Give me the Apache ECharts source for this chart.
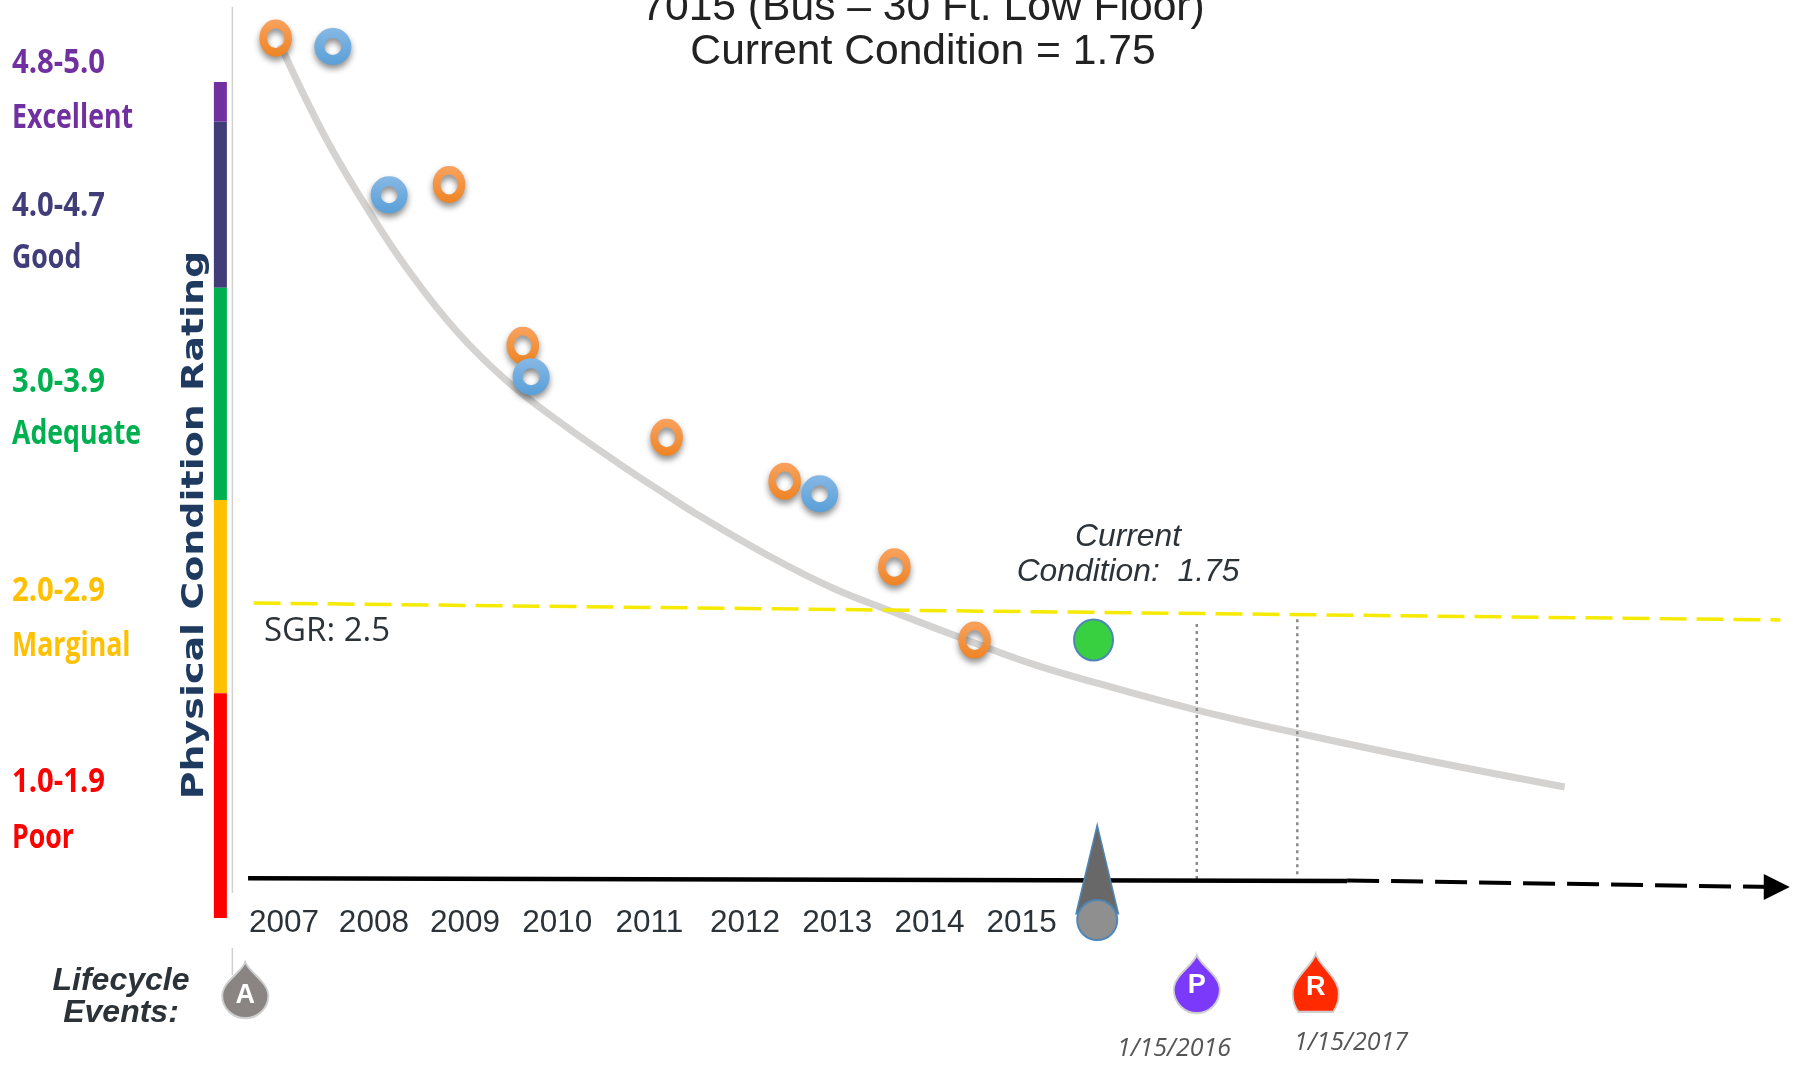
<!DOCTYPE html>
<html>
<head>
<meta charset="utf-8">
<title>7015 Current Condition</title>
<style>
    html, body { margin: 0; padding: 0; background: #fff; }
    #chart { width: 1793px; height: 1067px; overflow: hidden; }
</style>
<script src="https://cdn.jsdelivr.net/npm/echarts@6/dist/echarts.min.js"></script>
</head>
<body>
<div id="chart"></div>
<script>
// axis labels, the years sit a little unevenly on the picture
var yearTicks = [2007, 2007.975, 2008.963, 2009.963, 2010.963, 2012, 2013, 2014, 2015];

// rating bands, top to bottom
var bandNames = ["Excellent", "Good", "Adequate", "Marginal", "Poor"];
var bandRanges = ["4.8-5.0", "4.0-4.7", "3.0-3.9", "2.0-2.9", "1.0-1.9"];
var bandTops = [5.0, 4.81, 4.015, 3.0, 2.075];
var bandBottoms = [4.81, 4.015, 3.0, 2.075, 1.0];

// inspections [year, rating] as they sit on the picture
var orangePoints = [[2006.91, 5.21], [2008.79, 4.51], [2009.59, 3.74], [2011.15, 3.30], [2012.43, 3.09], [2013.62, 2.68], [2014.49, 2.33]];
var bluePoints = [[2007.53, 5.17], [2008.14, 4.46], [2009.68, 3.59], [2012.81, 3.03]];

// decay curve
var curvePoints = [[2006.96, 5.177], [2007.44, 4.742], [2007.90, 4.397], [2008.37, 4.086], [2008.88, 3.804], [2009.42, 3.569], [2009.99, 3.373], [2010.64, 3.172], [2011.15, 3.024], [2011.51, 2.923], [2012.24, 2.737], [2012.95, 2.579], [2013.61, 2.464], [2014.49, 2.316], [2015.12, 2.215], [2015.85, 2.12], [2016.90, 1.995], [2017.99, 1.885], [2019.43, 1.751], [2020.89, 1.627]];

var sgrLine = [[2006.67, 2.507], [2023.23, 2.426]];
var timeLine = [[2006.61, 1.19], [2018.53, 1.177]];
var futureLine = [[2018.53, 1.18], [2023.17, 1.148]];
var arrowHead = [[2023.19, 1.148]];
var plannedLine = [[2016.90, 2.407], [2016.90, 1.177]];
var replaceLine = [[2017.99, 2.43], [2017.99, 1.20]];
var ratingRule = [[2006.44, 5.36], [2006.44, 1.12]];
var lowerRule = [[2006.44, 0.856], [2006.44, 0.727]];

var currentPoint = [[2015.78, 2.33]];
var todayCone = [[2015.82, 1.234]];
var todayDot = [[2015.82, 0.99]];

// lifecycle events: [year, rating, letter]
var eventA = [[2006.58, 0.655, "A"]];
var eventP = [[2016.90, 0.684, "P"]];
var eventR = [[2018.19, 0.69, "R"]];

var bandColors = ["#7030A0", "#403D78", "#00B050", "#FFC000", "#FF0000"];
var bandTextY = [[63, 118], [206, 258], [382, 434], [591, 646], [782, 838]];

var dropPath = "path://M50 0 C58 22 100 42 100 72 C100 100 76 120 50 120 C24 120 0 100 0 72 C0 42 42 22 50 0 Z";
var cutDropPath = "path://M50 0 C58 22 100 42 100 72 C100 86 95 96 88 104 L12 104 C5 96 0 86 0 72 C0 42 42 22 50 0 Z";
var conePath = "path://M50 0 L100 100 L0 100 Z";
var arrowPath = "path://M0 0 L100 50 L0 100 Z";

function lineSeries(data, color, width, dash, z, smooth) {
    return {
        type: "line", data: data, clip: false, silent: true, symbol: "none", z: z, smooth: smooth || false,
        lineStyle: { color: color, width: width, type: dash || "solid", cap: "butt" }
    };
}

// only the stroke is painted, so the curve shows through the hole
function ringSeries(data, topColor, bottomColor, size, border, z) {
    return {
        type: "scatter", data: data, clip: false, silent: true, symbol: "circle", symbolSize: size, z: z,
        itemStyle: {
            color: "transparent", opacity: 1, borderWidth: border,
            borderColor: new echarts.graphic.LinearGradient(0, 0, 0, 1, [
                { offset: 0, color: topColor },
                { offset: 1, color: bottomColor }
            ]),
            shadowColor: "rgba(0,0,0,0.45)", shadowBlur: 6, shadowOffsetY: 4
        }
    };
}

function dropSeries(data, path, color, size, labelOffset) {
    return {
        type: "scatter", data: data, clip: false, silent: true, symbol: path, symbolSize: size, z: 8,
        itemStyle: { color: color, borderColor: "#cfcfcf", borderWidth: 2, opacity: 1 },
        label: {
            show: true, position: "inside", offset: [0, labelOffset], color: "#fff",
            fontFamily: "Liberation Sans", fontWeight: "bold", fontSize: 27,
            formatter: function (p) { return p.data[2]; }
        }
    };
}

function text(str, x, y, size, color, extra, scaleX) {
    var style = { text: str, fontSize: size, fill: color, fontFamily: "Liberation Sans", textAlign: "center", textVerticalAlign: "middle" };
    for (var k in extra) { style[k] = extra[k]; }
    return { type: "text", x: x, y: y, scaleX: scaleX || 1, style: style, silent: true, z: 20 };
}

// the coloured rating bar, left of the plot
var ratingBar = {
    type: "custom", silent: true, z: 3,
    data: bandTops.map(function (top, i) { return [2006.31, top, bandBottoms[i], i]; }),
    encode: { x: 0, y: [1, 2] },
    renderItem: function (params, api) {
        var a = api.coord([api.value(0), api.value(1)]);
        var b = api.coord([api.value(0), api.value(2)]);
        return {
            type: "rect",
            shape: { x: a[0] - 6.5, y: a[1], width: 13, height: b[1] - a[1] },
            style: { fill: bandColors[api.value(3)] }
        };
    }
};

var texts = [
    text("7015 (Bus \u2013 30 Ft. Low Floor)", 923, 8, 42.6, "#222"),
    text("Current Condition = 1.75", 923, 52, 42.6, "#222"),
    text("SGR: 2.5", 327, 632, 33, "#2b3238", { fontFamily: "Open Sans" }),
    text("Current", 1128, 537, 31.8, "#2b3238", { fontStyle: "italic" }),
    text("Condition:  1.75", 1128, 572, 31.8, "#2b3238", { fontStyle: "italic" }),
    text("Lifecycle", 121, 981, 32, "#2b3238", { fontStyle: "italic", fontWeight: "bold" }),
    text("Events:", 121, 1013, 32, "#2b3238", { fontStyle: "italic", fontWeight: "bold" }),
    text("1/15/2016", 1174, 1049, 25, "#555", { fontFamily: "Open Sans", fontStyle: "italic" }),
    text("1/15/2017", 1351, 1043, 25, "#555", { fontFamily: "Open Sans", fontStyle: "italic" }),
    {
        type: "text", x: 195, y: 525, rotation: Math.PI / 2, scaleX: 1.225, silent: true, z: 20,
        style: {
            text: "Physical Condition Rating", fontSize: 31, fontWeight: "bold", fill: "#1F3A5F",
            fontFamily: "DejaVu Sans", textAlign: "center", textVerticalAlign: "middle"
        }
    }
];

bandNames.forEach(function (name, i) {
    var style = { textAlign: "left", fontFamily: "Open Sans", fontWeight: "bold" };
    texts.push(text(bandRanges[i], 12, bandTextY[i][0], 34, bandColors[i], style, 0.86));
    texts.push(text(name, 12, bandTextY[i][1], 34, bandColors[i], style, 0.785));
});

var myChart = echarts.init(document.getElementById("chart"));

myChart.setOption({
    animation: false,
    backgroundColor: "#fff",
    grid: { left: 7.4, top: 82, width: 1784.1, height: 836 },
    xAxis: {
        type: "value", min: 2004, max: 2023.35,
        splitLine: { show: false }, axisLine: { show: false }, axisTick: { show: false },
        axisLabel: {
            customValues: yearTicks, margin: -11, hideOverlap: false,
            color: "#2b3238", fontFamily: "Liberation Sans", fontSize: 31.5,
            formatter: function (v) { return String(Math.round(v)); }
        }
    },
    yAxis: {
        type: "value", min: 1, max: 5, show: false, splitLine: { show: false }
    },
    series: [
        lineSeries(ratingRule, "#d0d0d0", 1.5, "solid", 1),
        lineSeries(lowerRule, "#d0d0d0", 1.5, "solid", 1),
        ratingBar,
        lineSeries(curvePoints, "#d4d3d1", 7, "solid", 2, 0.4),
        lineSeries(sgrLine, "#f5ea00", 3.5, [27, 10], 2),
        lineSeries(plannedLine, "#8a8a8a", 2.5, [3, 4], 2),
        lineSeries(replaceLine, "#8a8a8a", 2.5, [3, 4], 2),
        lineSeries(timeLine, "#000", 4.5, "solid", 3),
        lineSeries(futureLine, "#000", 4, [32, 12], 3),
        {
            type: "scatter", data: arrowHead, clip: false, silent: true, symbol: arrowPath, symbolSize: [26, 26], z: 3,
            itemStyle: { color: "#000", opacity: 1 }
        },
        ringSeries(orangePoints, "#f9a25e", "#ee8424", [25, 28.5], 8, 5),
        ringSeries(bluePoints, "#86b8e5", "#599fd7", 27, 10, 6),
        {
            type: "scatter", data: currentPoint, clip: false, silent: true, symbol: "circle", symbolSize: [39, 41], z: 6,
            itemStyle: { color: "#38d040", borderColor: "#4e86b5", borderWidth: 2, opacity: 1 }
        },
        {
            type: "scatter", data: todayCone, clip: false, silent: true, symbol: conePath, symbolSize: [42, 88], z: 6,
            itemStyle: { color: "#686868", borderColor: "#4e86b5", borderWidth: 2, opacity: 1 }
        },
        {
            type: "scatter", data: todayDot, clip: false, silent: true, symbol: "circle", symbolSize: 40, z: 7,
            itemStyle: { color: "#8f8f8f", borderColor: "#4e86b5", borderWidth: 2, opacity: 1 }
        },
        dropSeries(eventA, dropPath, "#8a8583", [46, 56], 5),
        dropSeries(eventP, dropPath, "#7b39fb", [46, 58], 2),
        dropSeries(eventR, cutDropPath, "#ff2a00", [46, 58], 5)
    ],
    graphic: { elements: texts }
});
</script>
</body>
</html>
